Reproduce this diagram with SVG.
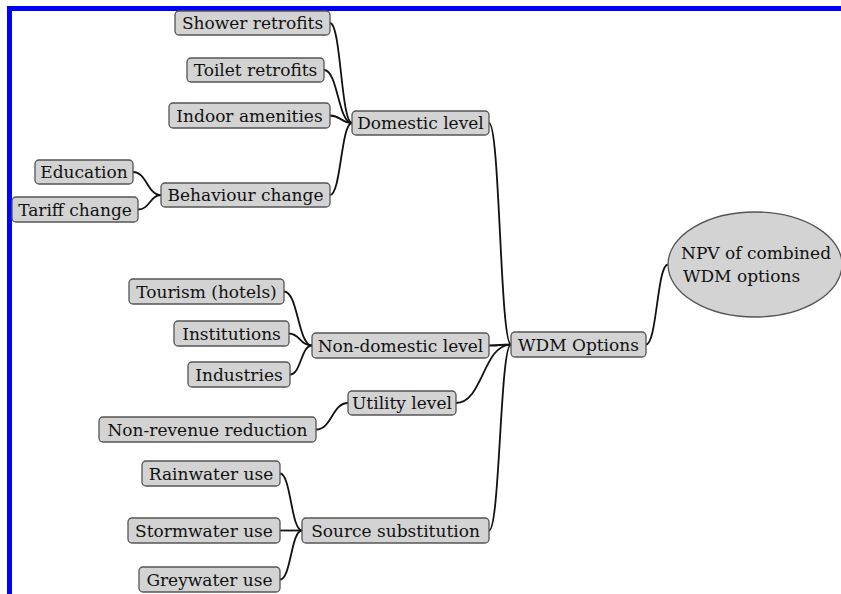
<svg xmlns="http://www.w3.org/2000/svg" width="841" height="594" viewBox="0 0 841 594">
<style>
.n rect, .n ellipse { fill:#d3d3d3; stroke:#555; stroke-width:1.3; }
.n text { font-family:"DejaVu Serif", serif; font-size:17px; fill:#111; text-anchor:middle; }
.c path { fill:none; stroke:#111; stroke-width:1.8; }
</style>
<rect x="0" y="0" width="841" height="594" fill="#fff"/>
<rect x="9.5" y="8.5" width="840" height="588" fill="none" stroke="#0000ff" stroke-width="5"/>
<g class="c" id="connectors">
<path d="M330,23 C341,23 341,123 352,123"/>
<path d="M324,70 C338,70 338,123 352,123"/>
<path d="M330,115.5 C341,115.5 341,123 352,123"/>
<path d="M330,195 C341,195 341,123 352,123"/>
<path d="M133,172 C147,172 147,195 161,195"/>
<path d="M138,209.5 C150,209.5 150,195 161,195"/>
<path d="M284,291.5 C298,291.5 298,345.5 312,345.5"/>
<path d="M289,333.5 C300,333.5 300,345.5 312,345.5"/>
<path d="M290,374.5 C301,374.5 301,345.5 312,345.5"/>
<path d="M316,429.5 C332,429.5 332,403 348,403"/>
<path d="M280,473.5 C291,473.5 291,530.5 302,530.5"/>
<path d="M280,530.5 L302,530.5"/>
<path d="M280,579.5 C291,579.5 291,530.5 302,530.5"/>
<path d="M489,123 C500,123 500,344.5 511,344.5"/>
<path d="M489,345.5 C500,345.5 500,344.5 511,344.5"/>
<path d="M456,403 C483,403 483,344.5 511,344.5"/>
<path d="M489,530.5 C500,530.5 500,344.5 511,344.5"/>
<path d="M646,344.5 C657,344.5 657,264.5 668,264.5"/>
</g>
<g class="n" id="n-shower"><rect x="175" y="11" width="155" height="24" rx="4"/><text x="252.5" y="29">Shower retrofits</text></g>
<g class="n" id="n-toilet"><rect x="187" y="58" width="137" height="24" rx="4"/><text x="255.5" y="76">Toilet retrofits</text></g>
<g class="n" id="n-indoor"><rect x="169" y="103" width="161" height="25" rx="4"/><text x="249.5" y="121.5">Indoor amenities</text></g>
<g class="n" id="n-domestic"><rect x="352" y="111" width="137" height="24" rx="4"/><text x="420.5" y="129">Domestic level</text></g>
<g class="n" id="n-education"><rect x="35" y="160" width="98" height="24" rx="4"/><text x="84" y="178">Education</text></g>
<g class="n" id="n-tariff"><rect x="12" y="197" width="126" height="25" rx="4"/><text x="75" y="215.5">Tariff change</text></g>
<g class="n" id="n-behaviour"><rect x="161" y="183" width="169" height="24" rx="4"/><text x="245.5" y="201">Behaviour change</text></g>
<g class="n" id="n-tourism"><rect x="129" y="279" width="155" height="25" rx="4"/><text x="206.5" y="297.5">Tourism (hotels)</text></g>
<g class="n" id="n-institutions"><rect x="174" y="321" width="115" height="25" rx="4"/><text x="231.5" y="339.5">Institutions</text></g>
<g class="n" id="n-industries"><rect x="188" y="362" width="102" height="25" rx="4"/><text x="239" y="380.5">Industries</text></g>
<g class="n" id="n-nondomestic"><rect x="312" y="333" width="177" height="25" rx="4"/><text x="400.5" y="351.5">Non-domestic level</text></g>
<g class="n" id="n-utility"><rect x="348" y="391" width="108" height="24" rx="4"/><text x="402" y="409">Utility level</text></g>
<g class="n" id="n-nonrevenue"><rect x="99" y="417" width="217" height="25" rx="4"/><text x="207.5" y="435.5">Non-revenue reduction</text></g>
<g class="n" id="n-rainwater"><rect x="142" y="461" width="138" height="25" rx="4"/><text x="211" y="479.5">Rainwater use</text></g>
<g class="n" id="n-stormwater"><rect x="128" y="518" width="152" height="25" rx="4"/><text x="204" y="536.5">Stormwater use</text></g>
<g class="n" id="n-greywater"><rect x="139" y="567" width="141" height="25" rx="4"/><text x="209.5" y="585.5">Greywater use</text></g>
<g class="n" id="n-source"><rect x="302" y="518" width="187" height="25" rx="4"/><text x="395.5" y="536.5">Source substitution</text></g>
<g class="n" id="n-wdm"><rect x="511" y="332" width="135" height="25" rx="4"/><text x="578.5" y="350.5">WDM Options</text></g>
<g class="n" id="n-npv"><ellipse cx="755" cy="264.5" rx="87" ry="52.5"/><text x="681" y="259" style="text-anchor:start">NPV of combined</text><text x="683" y="282" style="text-anchor:start">WDM options</text></g>
</svg>
